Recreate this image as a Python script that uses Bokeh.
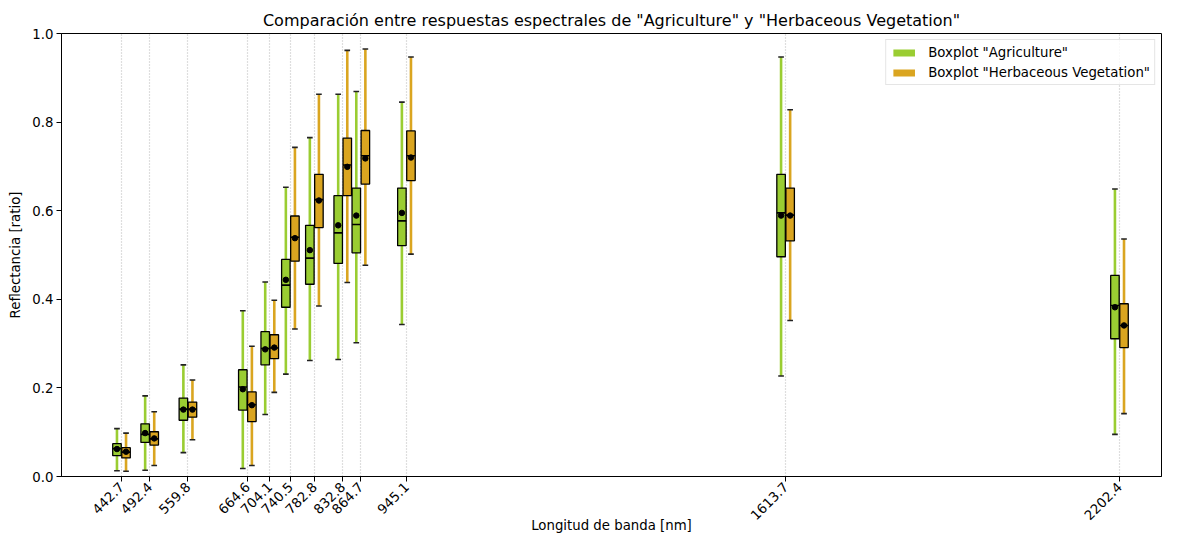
import numpy as np
from bokeh.plotting import figure
from bokeh.models import (ColumnDataSource, FixedTicker, PrintfTickFormatter,
                          Legend, LegendItem, Range1d)
from bokeh.embed import file_html
from bokeh.resources import INLINE

# ---------------- data ----------------
bands = [442.7, 492.4, 559.8, 664.6, 704.1, 740.5, 782.8, 832.8, 864.7, 945.1, 1613.7, 2202.4]

agri_min = [0.013, 0.014, 0.054, 0.018, 0.140, 0.231, 0.262, 0.264, 0.302, 0.343, 0.227, 0.095]
agri_q1 = [0.047, 0.077, 0.127, 0.150, 0.252, 0.382, 0.434, 0.481, 0.505, 0.521, 0.496, 0.311]
agri_med = [0.063, 0.095, 0.152, 0.202, 0.289, 0.432, 0.493, 0.550, 0.569, 0.577, 0.595, 0.386]
agri_q3 = [0.074, 0.119, 0.177, 0.241, 0.327, 0.490, 0.567, 0.634, 0.651, 0.651, 0.682, 0.454]
agri_max = [0.108, 0.182, 0.252, 0.374, 0.439, 0.653, 0.765, 0.863, 0.869, 0.845, 0.947, 0.649]
agri_mean = [0.062, 0.098, 0.151, 0.197, 0.287, 0.444, 0.511, 0.567, 0.589, 0.595, 0.589, 0.382]

herb_min = [0.012, 0.025, 0.083, 0.025, 0.190, 0.333, 0.385, 0.438, 0.477, 0.502, 0.352, 0.142]
herb_q1 = [0.042, 0.071, 0.134, 0.124, 0.266, 0.486, 0.562, 0.634, 0.660, 0.668, 0.532, 0.291]
herb_med = [0.055, 0.085, 0.152, 0.162, 0.290, 0.540, 0.625, 0.703, 0.724, 0.724, 0.590, 0.341]
herb_q3 = [0.065, 0.101, 0.168, 0.191, 0.320, 0.588, 0.682, 0.764, 0.781, 0.780, 0.651, 0.390]
herb_max = [0.098, 0.146, 0.218, 0.294, 0.398, 0.743, 0.863, 0.962, 0.965, 0.947, 0.828, 0.536]
herb_mean = [0.056, 0.086, 0.151, 0.161, 0.291, 0.538, 0.623, 0.699, 0.718, 0.720, 0.589, 0.341]

y_ticks = [0.0, 0.2, 0.4, 0.6, 0.8, 1.0]

title_text = 'Comparación entre respuestas espectrales de "Agriculture" y "Herbaceous Vegetation"'
legend_labels = ['Boxplot "Agriculture"', 'Boxplot "Herbaceous Vegetation"']

# ---------------- style ----------------
GREEN = "#9ACD32"
ORANGE = "#DAA520"
FONT = "DejaVu Sans"
OFFSET = 8.0
BOX_W = 15.0
CAP_W = 10.0

p = figure(width=1162, height=536, output_backend="svg", toolbar_location=None,
           x_range=Range1d(336.9, 2276.5), y_range=Range1d(0, 1),
           min_border_left=61, min_border_right=1, min_border_top=33, min_border_bottom=59,
           title=title_text)

p.title.text_font = FONT
p.title.text_font_size = "16px"
p.title.text_font_style = "normal"
p.title.text_color = "black"
p.title.align = "center"
p.title.standoff = 8

p.outline_line_color = "black"
p.outline_line_width = 1
p.outline_line_alpha = 1

# grid: dotted vertical lines at each band
p.xgrid.ticker = FixedTicker(ticks=bands)
p.xgrid.grid_line_dash = "1 2"
p.xgrid.grid_line_color = "#bdbdbd"
p.xgrid.grid_line_width = 1.2
p.ygrid.grid_line_color = None

# axes
for ax in (p.xaxis[0], p.yaxis[0]):
    ax.axis_line_color = "black"
    ax.major_tick_line_color = "black"
    ax.major_tick_out = 5
    ax.major_tick_in = 0
    ax.minor_tick_line_color = None
    ax.major_label_text_font = FONT
    ax.major_label_text_font_size = "13.3px"
    ax.major_label_text_color = "black"
    ax.axis_label_text_font = FONT
    ax.axis_label_text_font_size = "13.3px"
    ax.axis_label_text_font_style = "normal"
    ax.axis_label_text_color = "black"

p.xaxis.ticker = FixedTicker(ticks=bands)
p.xaxis.formatter = PrintfTickFormatter(format="%.1f")
p.xaxis.major_label_orientation = np.pi / 4
p.xaxis.major_label_standoff = 3
p.xaxis.axis_label = "Longitud de banda [nm]"
p.xaxis.axis_label_standoff = -9

p.yaxis.ticker = FixedTicker(ticks=y_ticks)
p.yaxis.formatter = PrintfTickFormatter(format="%.1f")
p.yaxis.major_label_standoff = 3
p.yaxis.axis_label = "Reflectancia [ratio]"
p.yaxis.axis_label_standoff = 6


def draw_boxes(shift, color, mn, q1, med, q3, mx, mean):
    x = np.array(bands) + shift
    src = ColumnDataSource(dict(
        x=x, mn=mn, q1=q1, med=med, q3=q3, mx=mx, mean=mean,
        left=x - BOX_W / 2, right=x + BOX_W / 2,
        cl=x - CAP_W / 2, cr=x + CAP_W / 2))
    p.segment(x0="x", y0="mn", x1="x", y1="mx", source=src,
              line_color=color, line_width=2.6)
    p.segment(x0="cl", y0="mx", x1="cr", y1="mx", source=src,
              line_color="#222222", line_width=1.6)
    p.segment(x0="cl", y0="mn", x1="cr", y1="mn", source=src,
              line_color="#222222", line_width=1.6)
    p.quad(left="left", right="right", bottom="q1", top="q3", source=src,
           fill_color=color, line_color="black", line_width=1.3)
    p.segment(x0="left", y0="med", x1="right", y1="med", source=src,
              line_color="black", line_width=1.6)
    p.scatter(x="x", y="mean", source=src, size=5.5, marker="circle",
              fill_color="black", line_color="black")
    # legend proxy: zero-height patch (invisible in the plot, filled swatch in legend)
    proxy = p.quad(left="left", right="right", bottom="q1", top="q1", source=src,
                   fill_color=color, line_color=None)
    return proxy


lg_g = draw_boxes(-OFFSET, GREEN, agri_min, agri_q1, agri_med, agri_q3, agri_max, agri_mean)
lg_o = draw_boxes(OFFSET, ORANGE, herb_min, herb_q1, herb_med, herb_q3, herb_max, herb_mean)

legend = Legend(items=[LegendItem(label=legend_labels[0], renderers=[lg_g], index=0),
                       LegendItem(label=legend_labels[1], renderers=[lg_o], index=0)],
                location="top_right")
legend.margin = 6
legend.padding = 4
legend.spacing = 4
legend.glyph_width = 27
legend.glyph_height = 9
legend.label_height = 16
legend.label_standoff = 11
legend.label_text_font = FONT
legend.label_text_font_size = "13.3px"
legend.label_text_color = "black"
legend.border_line_color = "#cccccc"
legend.border_line_width = 1
legend.background_fill_alpha = 0.8
p.add_layout(legend, "center")

open("out.html", "w").write(file_html(p, INLINE))
